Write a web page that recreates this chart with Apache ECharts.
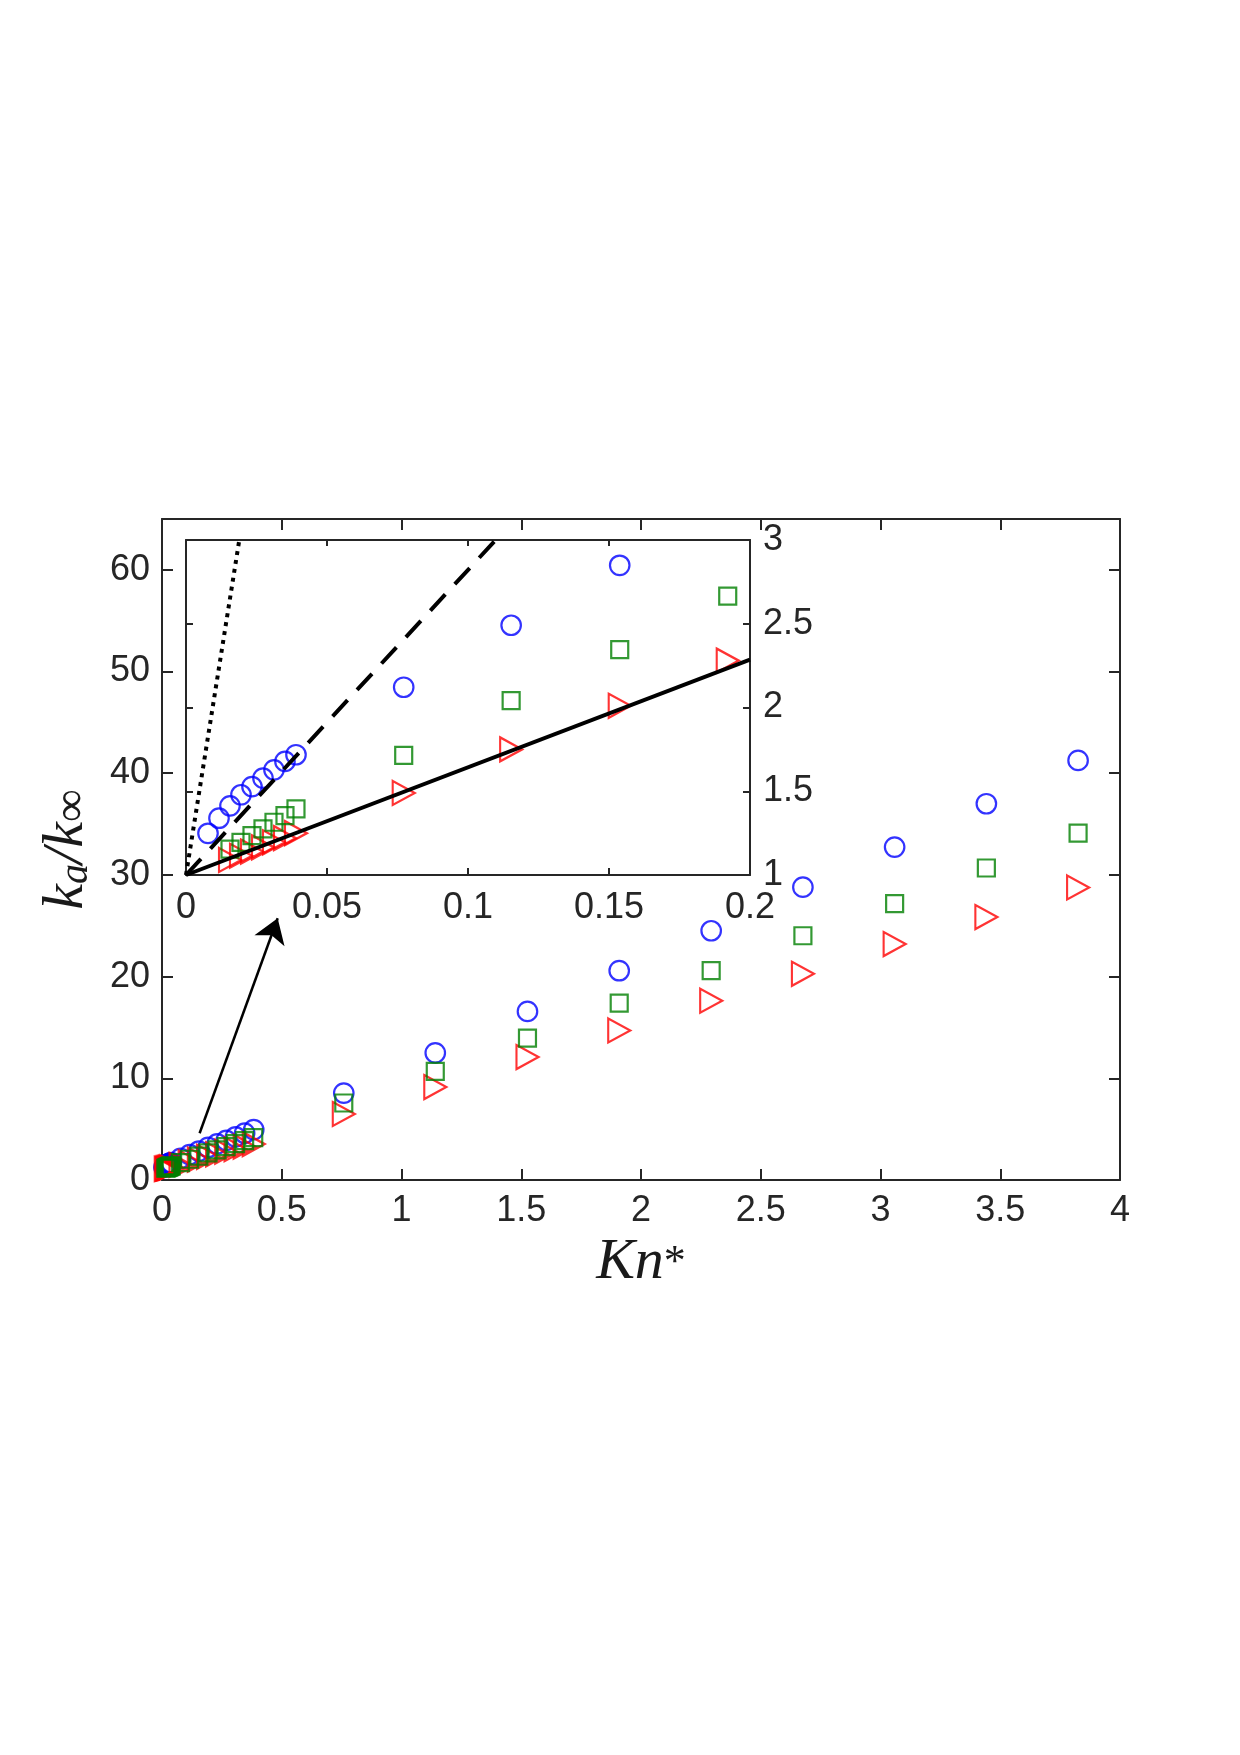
<!DOCTYPE html>
<html>
<head>
<meta charset="utf-8">
<script src="https://cdn.jsdelivr.net/npm/echarts@6/dist/echarts.min.js"></script>
<style>html,body{margin:0;padding:0;background:#fff}#c{width:1240px;height:1755px}</style>
</head>
<body>
<div id="c"></div>
<script>
// ---- data ----
const blueX = [0.0078,0.0117,0.0156,0.0195,0.0234,0.0273,0.0312,0.0351,0.039,
               0.0772,0.1153,0.1538,0.1921,0.230,0.268,0.307,0.345,0.383,
               0.759,1.141,1.526,1.909,2.293,2.676,3.059,3.442,3.825];
const blueY = [1.249,1.339,1.413,1.479,1.528,1.578,1.628,1.678,1.718,
               2.121,2.491,2.849,3.20,3.55,3.90,4.25,4.60,4.95,
               8.55,12.5,16.58,20.58,24.51,28.8,32.74,37.0,41.26];
const greenX = [0.0156,0.0195,0.0234,0.0273,0.0312,0.0351,0.039,
                0.0772,0.1153,0.1538,0.1921,0.230,0.268,0.307,0.345,0.383,
                0.759,1.141,1.526,1.909,2.293,2.676,3.059,3.442,3.825];
const greenY = [1.155,1.195,1.235,1.275,1.315,1.355,1.395,
                1.714,2.041,2.346,2.665,2.97,3.28,3.58,3.88,4.17,
                7.57,10.68,13.96,17.40,20.58,24.02,27.17,30.68,34.12];
const redX = [0.0156,0.0195,0.0234,0.0273,0.0312,0.0351,0.039,
              0.0772,0.1153,0.1538,0.1921,0.230,0.268,0.307,0.345,0.383,
              0.759,1.141,1.526,1.909,2.293,2.676,3.059,3.442,3.825];
const redY = [1.09,1.115,1.14,1.165,1.195,1.22,1.25,
              1.49,1.75,2.01,2.28,2.53,2.78,3.03,3.28,3.53,
              6.49,9.14,12.09,14.71,17.63,20.28,23.2,25.86,28.77];
// reference lines in the inset
const solidX = [0, 0.2],     solidY = [1, 2.286];
const dashX  = [0, 0.1098],  dashY  = [1, 3];
const dotX   = [0, 0.0189],  dotY   = [1, 3];
// arrow in main plot (start, end)
const arrowFrom = [0.157, 4.6];
const arrowTo   = [0.483, 25.74];
// tick values
const mainYTicks = [0,10,20,30,40,50,60];

// ---- helpers ----
const pairs = (xs, ys) => xs.map((x, i) => [x, ys[i]]);
const AX = '#262626';
const tickText = {fontFamily:'"Liberation Sans", Arial, Helvetica, sans-serif', fontSize:36, color:AX};
const axLine = {show:true, onZero:false, lineStyle:{color:AX, width:2}};
const tri = 'path://M0,0L20,10L0,20Z';

const markerSets = [
  {x:blueX, y:blueY, symbol:'circle', size:19.5, color:'#0000ff'},
  {x:redX, y:redY, symbol:tri, size:[22,24], color:'#ff0000'},
  {x:greenX, y:greenY, symbol:'rect', size:17, color:'#008000'}
];

const series = [];
[0, 1].forEach(g => {
  markerSets.forEach((m, k) => {
    const s = {
      type:'scatter', xAxisIndex: g*2, yAxisIndex: g*2,
      data: pairs(m.x, m.y), symbol: m.symbol, symbolSize: m.size,
      itemStyle:{color:'rgba(0,0,0,0)', borderColor:m.color, borderWidth:2.2},
      emphasis:{disabled:true}, silent:true, clip:true, z: 3 + g*2
    };
    if (g === 0 && k === 0) {
      s.markLine = {
        silent:true, animation:false,
        symbol:['none','arrow'], symbolSize:24,
        label:{show:false},
        emphasis:{disabled:true},
        itemStyle:{color:'#000'},
        lineStyle:{color:'#000', width:2.5, type:'solid'},
        data:[[{coord:arrowFrom},{coord:arrowTo}]]
      };
    }
    series.push(s);
  });
});
const lineDefs = [
  {x:solidX, y:solidY, type:'solid'},
  {x:dashX, y:dashY, type:[22,14]},
  {x:dotX, y:dotY, type:[4,5]}
];
lineDefs.forEach(l => series.push({
  type:'line', xAxisIndex:2, yAxisIndex:2, data:pairs(l.x, l.y),
  symbol:'none', silent:true, clip:true, z:8,
  lineStyle:{color:'#000', width:4, type:l.type, cap:'butt'},
  emphasis:{disabled:true}
}));

const serif = '"Liberation Serif", "Times New Roman", serif';
const chart = echarts.init(document.getElementById('c'), null, {renderer:'canvas'});
chart.setOption({
  animation:false,
  backgroundColor:'#ffffff',
  grid:[
    {left:162, top:519, width:958, height:661, show:false},
    {left:186, top:540, width:564, height:335, show:true, backgroundColor:'#ffffff', borderWidth:0, z:1}
  ],
  xAxis:[
    {type:'value', gridIndex:0, position:'bottom', min:0, max:4, interval:0.5,
     axisLine:axLine, axisTick:{show:true, inside:true, length:11, lineStyle:{color:AX, width:2}},
     axisLabel:Object.assign({margin:13}, tickText), splitLine:{show:false},
     name:'{i|Kn}{p|*}', nameLocation:'middle', nameGap:54,
     nameTextStyle:{rich:{
       i:{fontFamily:serif, fontStyle:'italic', fontSize:58, color:'#1a1a1a'},
       p:{fontFamily:serif, fontSize:44, color:'#1a1a1a'}
     }}},
    {type:'value', gridIndex:0, position:'top', min:0, max:4, interval:0.5,
     axisLine:axLine, axisTick:{show:true, inside:true, length:11, lineStyle:{color:AX, width:2}},
     axisLabel:{show:false}, splitLine:{show:false}},
    {type:'value', gridIndex:1, position:'bottom', min:0, max:0.2, interval:0.05,
     axisLine:axLine, axisTick:{show:true, inside:true, length:7, lineStyle:{color:AX, width:2}},
     axisLabel:Object.assign({margin:15}, tickText), splitLine:{show:false}, z:4},
    {type:'value', gridIndex:1, position:'top', min:0, max:0.2, interval:0.05,
     axisLine:axLine, axisTick:{show:true, inside:true, length:6, lineStyle:{color:AX, width:2}},
     axisLabel:{show:false}, splitLine:{show:false}, z:4}
  ],
  yAxis:[
    {type:'value', gridIndex:0, position:'left', min:0, max:65,
     axisLine:axLine,
     axisTick:{show:true, inside:true, length:11, customValues:mainYTicks, lineStyle:{color:AX, width:2}},
     axisLabel:Object.assign({margin:12, customValues:mainYTicks}, tickText), splitLine:{show:false},
     name:'{i|k}{s|a}{i|/k}{t|∞}', nameLocation:'middle', nameRotate:90, nameGap:66,
     nameTextStyle:{rich:{
       i:{fontFamily:serif, fontStyle:'italic', fontSize:58, lineHeight:58, verticalAlign:'top', color:'#1a1a1a'},
       s:{fontFamily:serif, fontStyle:'italic', fontSize:40, lineHeight:40, verticalAlign:'bottom', padding:[26,0,0,0], color:'#1a1a1a'},
       t:{fontFamily:serif, fontSize:46, lineHeight:46, verticalAlign:'bottom', padding:[22,0,0,0], color:'#1a1a1a'}
     }}},
    {type:'value', gridIndex:0, position:'right', min:0, max:65,
     axisLine:axLine,
     axisTick:{show:true, inside:true, length:11, customValues:mainYTicks, lineStyle:{color:AX, width:2}},
     axisLabel:{show:false}, splitLine:{show:false}},
    {type:'value', gridIndex:1, position:'right', min:1, max:3, interval:0.5,
     axisLine:axLine, axisTick:{show:true, inside:true, length:7, lineStyle:{color:AX, width:2}},
     axisLabel:Object.assign({margin:13}, tickText), splitLine:{show:false}, z:4},
    {type:'value', gridIndex:1, position:'left', min:1, max:3, interval:0.5,
     axisLine:axLine, axisTick:{show:true, inside:true, length:7, lineStyle:{color:AX, width:2}},
     axisLabel:{show:false}, splitLine:{show:false}, z:4}
  ],
  series: series
});
</script>
</body>
</html>
